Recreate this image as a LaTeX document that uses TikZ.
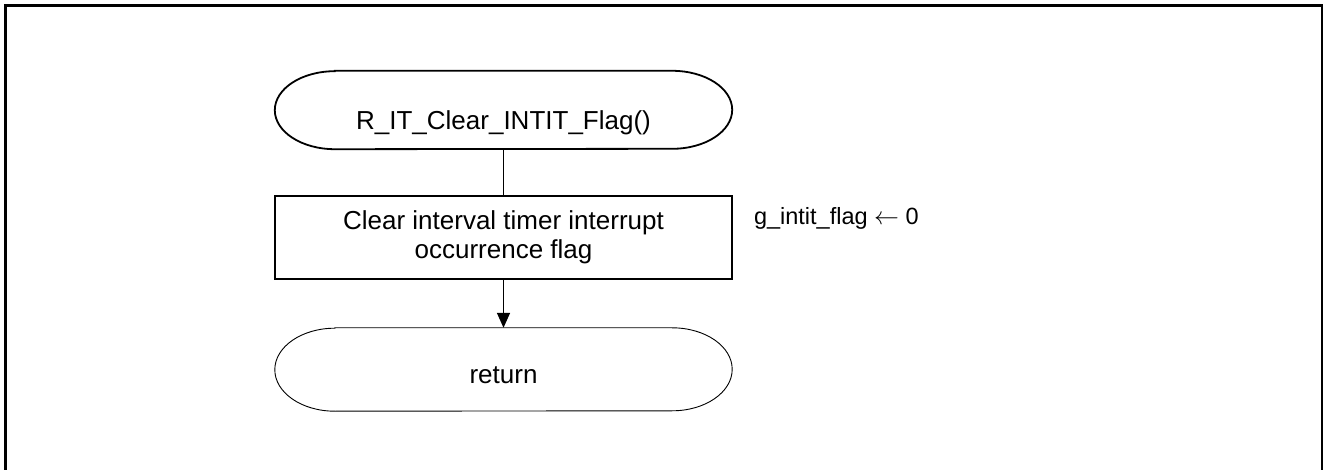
\documentclass[tikz,border=0pt]{standalone}
\usepackage{fontspec}
\setmainfont{Liberation Sans}
\usetikzlibrary{calc,arrows.meta}

\tikzset{
  term/.style 2 args={minimum width=457pt, minimum height={2*#2}, inner sep=0pt,
    font=\fontsize{26}{29}\selectfont,
    append after command={\pgfextra{\draw[line width=#1]
      ([xshift=60pt]\tikzlastnode.north west) -- ([xshift=-60pt]\tikzlastnode.north east)
      arc[start angle=90, end angle=-90, x radius=60pt, y radius=#2]
      -- ([xshift=60pt]\tikzlastnode.south west)
      arc[start angle=270, end angle=90, x radius=60pt, y radius=#2] -- cycle;}}},
  procbox/.style={draw, line width=1.6pt, minimum width=457pt, minimum height=83pt,
    inner sep=0pt, align=center, font=\fontsize{26}{29}\selectfont},
  note/.style={anchor=base west, inner sep=0pt, font=\fontsize{23.5}{28}\selectfont},
  conn/.style={line width=1.6pt},
}

\begin{document}
\begin{tikzpicture}[x=1pt,y=1pt]
  \useasboundingbox (0,0) rectangle (1323,469);
  \draw[line width=2.7pt] (5.3,463.2) rectangle (1322.2,-2);
  \node[term={1.8pt}{39pt}, text height=40pt, text depth=0pt] (S0) at (503.5,359) {R\_IT\_Clear\_INTIT\_Flag()};
  \node[procbox] (S1) at ($(S0)+(0,-127.5)$) {Clear interval timer interrupt\\occurrence flag};
  \node[term={0.9pt}{41.5pt}, text height=27pt, text depth=0pt] (S2) at ($(S1)+(0,-132)$) {return};
  \node[note] (N1) at ($(S1.east)+(21,12.5)$) {g\_intit\_flag $\leftarrow$ 0};
  \path[conn] (S0) edge (S1);
  \path[conn,-{Triangle[length=15pt,width=13pt]}] (S1) edge (S2);
\end{tikzpicture}
\end{document}
